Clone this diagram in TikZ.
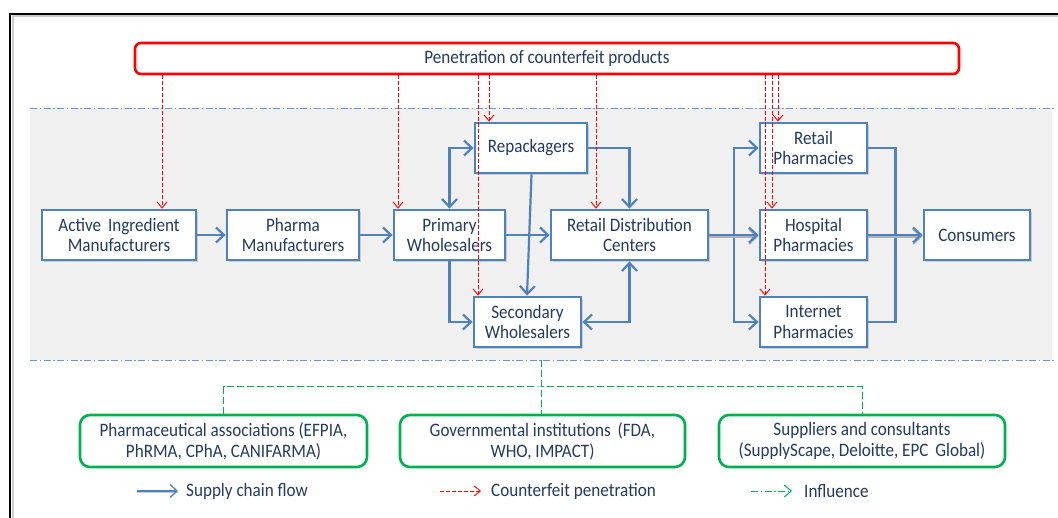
\documentclass[tikz,border=0pt]{standalone}
\usepackage{fontspec}
\setmainfont{Carlito}[FakeStretch=0.9]
\usetikzlibrary{arrows.meta,calc,shadows}
\definecolor{boxblue}{HTML}{4F81BD}
\definecolor{txtblue}{HTML}{243A5E}
\definecolor{sepblue}{HTML}{6A95CC}
\definecolor{bggray}{HTML}{F0F0F0}
\definecolor{cfred}{HTML}{FF0000}
\definecolor{infgreen}{HTML}{00B050}
\tikzset{
  txt/.style={text=txtblue, font=\fontsize{19}{20.8}\selectfont},
  sbox/.style={txt, draw=boxblue, line width=2.8pt, fill=white, align=center,
    minimum height=50pt, inner sep=2pt,
    drop shadow={shadow xshift=1.6pt, shadow yshift=-1.6pt, opacity=0.35, fill=black!45}},
  pbox/.style={txt, draw=cfred, line width=2.6pt, fill=white, rounded corners=6pt,
    minimum width=824pt, minimum height=31pt, align=center, inner sep=0pt},
  gbox/.style={txt, draw=infgreen, line width=2.6pt, fill=white, rounded corners=10pt,
    minimum height=52pt, align=center, inner sep=2pt},
  flow/.style={draw=boxblue, line width=2.2pt,
    arrows={-Straight Barb[length=8pt,width=15pt,line width=2.2pt]}},
  flowboth/.style={flow, arrows={Straight Barb[length=8pt,width=15pt,line width=2.2pt]-Straight Barb[length=8pt,width=15pt,line width=2.2pt]}},
  flowplain/.style={draw=boxblue, line width=2.2pt},
  mainflow/.style={flow, line width=2.8pt,
    preaction={draw=black!30, line width=3pt, transform canvas={yshift=-1.4pt}}},
  cf/.style={draw=cfred, line width=0.9pt, dash pattern=on 4pt off 2pt,
    arrows={-Straight Barb[length=6pt,width=10pt,line width=0.9pt]}},
  infl/.style={draw=infgreen, line width=1pt, dash pattern=on 7pt off 3pt},
  sepline/.style={draw=sepblue, line width=0.9pt, dash pattern=on 7pt off 2.5pt on 1.5pt off 2.5pt},
  lgtxt/.style={txt, anchor=west, inner sep=0pt},
}
\begin{document}
\begin{tikzpicture}[x=1pt,y=-1pt]
\useasboundingbox (0,0) rectangle (1058,518);
\fill[white] (0,0) rectangle (1058,518);

% outer frame (top and left edges) with a light shadow
\draw[black!20, line width=2pt] (12.5,518) -- (12.5,16.5) -- (1058,16.5);
\draw[black, line width=2pt] (10,518) -- (10,14) -- (1058,14);

% shaded supply-chain band with dash-dot borders
\fill[bggray] (30,108) rectangle (1052,360);
\draw[sepline] (30,108) -- (1056,108);
\draw[sepline] (30,360) -- (1056,360);

% counterfeit source
\node[pbox] (pen) at (547,58.5) {Penetration of counterfeit products};

% supply chain nodes
\node[sbox, minimum width=154pt] (aim)    at (119,235)   {Active\hspace{3pt} Ingredient\\Manufacturers};
\node[sbox, minimum width=132pt] (pharma) at (293,235)   {Pharma\\Manufacturers};
\node[sbox, minimum width=111pt] (prim)   at (449.5,235) {Primary\\Wholesalers};
\node[sbox, minimum width=112pt] (repack) at (531,148)   {Repackagers};
\node[sbox, minimum width=107pt] (sec)    at (527.5,322) {Secondary\\Wholesalers};
\node[sbox, minimum width=157pt] (rdc)    at (629.5,235) {Retail Distribution\\Centers};
\node[sbox, minimum width=107pt] (retail) at (813.5,148) {Retail\\Pharmacies};
\node[sbox, minimum width=107pt] (hosp)   at (813.5,235) {Hospital\\Pharmacies};
\node[sbox, minimum width=107pt] (inet)   at (813.5,322) {Internet\\Pharmacies};
\node[sbox, minimum width=106pt] (cons)   at (977,235)   {Consumers};

% influencing organisations
\node[gbox, minimum width=287pt] (g1) at (223.5,441) {Pharmaceutical associations (EFPIA,\\PhRMA, CPhA, CANIFARMA)};
\node[gbox, minimum width=285pt] (g2) at (542.5,441) {Governmental institutions\hspace{3pt} (FDA,\\WHO, IMPACT)};
\node[gbox, minimum width=286pt] (g3) at (862,441)   {Suppliers and consultants\\(SupplyScape, Deloitte, EPC\hspace{3pt} Global)};

% supply chain flow
\draw[flow] (aim.east) -- (pharma.west);
\draw[flow] (pharma.east) -- (prim.west);
\draw[flow] (prim.east) -- (rdc.west);
\draw[flowboth] (prim.north) |- (repack.west);
\draw[flow] (prim.south) |- (sec.west);
\draw[flow] ([xshift=0.5pt]repack.south) -- ([xshift=-0.5pt]sec.north);
\draw[flow] (repack.east) -| (rdc.north);
\draw[flowboth] (sec.east) -| (rdc.south);

\coordinate (sp) at ($(rdc.east)!0.5!(hosp.west)$);
\coordinate (jn) at ($(hosp.east)!0.5!(cons.west)$);
\draw[flow] (sp) |- (retail.west);
\draw[flow] (sp) |- (inet.west);
\draw[mainflow] (rdc.east) -- (hosp.west);
\draw[flowplain] (retail.east) -| (jn) |- (inet.east);
\draw[mainflow] (hosp.east) -- (cons.west);

% counterfeit penetration points
\coordinate (t1) at ([xshift=43pt]aim.north);
\coordinate (t2) at ([xshift=-51.5pt]prim.north);
\coordinate (t3) at ([xshift=-49.5pt]sec.north);
\coordinate (t4) at ([xshift=-42pt]repack.north);
\coordinate (t5) at ([xshift=-33.5pt]rdc.north);
\coordinate (t6) at ([xshift=-48.5pt]inet.north);
\coordinate (t7) at ([xshift=-41.5pt]hosp.north);
\coordinate (t8) at ([xshift=-35.5pt]retail.north);
\foreach \t in {t1,t2,t3,t4,t5,t6,t7,t8}
  \draw[cf] (\t |- pen.south) -- (\t);

% influence links
\coordinate (ib) at (541,360);
\coordinate (bus) at (541,387);
\draw[infl] (ib) -- (ib |- g2.north);
\draw[infl] (g1.north) |- (bus) -| (g3.north);

% legend
\node[lgtxt] (l1) at (186,491) {Supply chain flow};
\node[lgtxt] (l2) at (491,491) {Counterfeit penetration};
\node[lgtxt] (l3) at (804,491) {Influence};
\coordinate (a1) at (137,491);
\coordinate (a2) at (440,491);
\coordinate (a3) at (751,491);
\draw[draw=boxblue, line width=1.3pt, arrows={-Straight Barb[length=7pt,width=13pt,line width=1.3pt]},
      preaction={draw=black!20, line width=1.3pt, arrows=-, transform canvas={yshift=-1.3pt}}]
  (a1) -- ([xshift=-8pt]l1.west);
\draw[cf] (a2) -- ([xshift=-10pt]l2.west);
\draw[draw=infgreen, line width=1pt, dash pattern=on 7pt off 2.5pt on 1.5pt off 2.5pt,
      arrows={-Straight Barb[length=7pt,width=12pt,line width=1pt]}]
  (a3) -- ([xshift=-12pt]l3.west);
\end{tikzpicture}
\end{document}
